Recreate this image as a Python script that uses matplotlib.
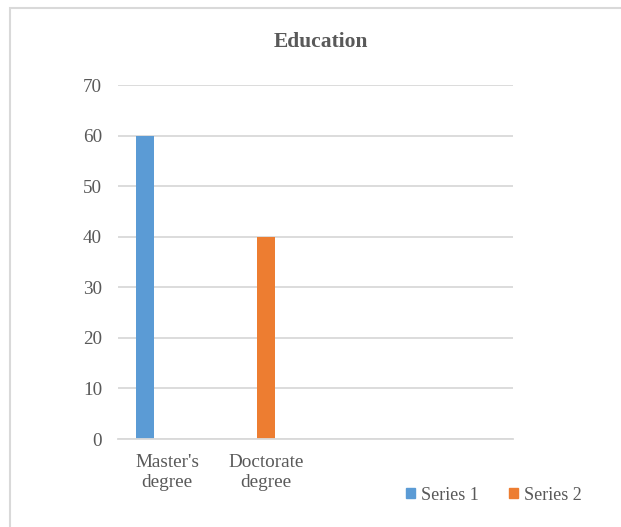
import matplotlib
matplotlib.use('Agg')
import matplotlib.pyplot as plt
from matplotlib.patches import Rectangle, Patch
import numpy as np

# chart data
categories = ["Master's\ndegree", "Doctorate\ndegree", "", ""]
series1 = [60, 0, 0, 0]
series2 = [0, 40, 0, 0]
series_names = ['Series 1', 'Series 2']
yticks = [0, 10, 20, 30, 40, 50, 60, 70]

blue = '#5B9BD5'
orange = '#ED7D31'
grey_text = '#595959'
grid_col = '#D9D9D9'

plt.rcParams['font.family'] = ['Liberation Serif', 'DejaVu Serif']

fig = plt.figure(figsize=(6.21, 5.27), dpi=100)
W, H = 621, 527
ax = fig.add_axes([118 / W, 1 - 439 / H, (512.5 - 118) / W, (439 - 85) / H])

# outer chart border (runs off right/bottom edge)
fig.patches.append(Rectangle((10 / W, -0.05), 1.2, 1 - 8 / H + 0.05,
                             transform=fig.transFigure, fill=False,
                             edgecolor=grid_col, linewidth=1.5))

x = np.arange(len(categories))
step = 0.223
width = 0.183
ax.bar(x - step, series1, width, color=blue, zorder=3)
ax.bar(x, series2, width, color=orange, zorder=3)

ax.set_xlim(-0.5, len(categories) - 0.5)
ax.set_ylim(0, 70)
ax.set_yticks(yticks)
ax.set_yticklabels([str(v) for v in yticks])
ax.set_xticks(x)
ax.set_xticklabels(categories, linespacing=1.2)
ax.tick_params(axis='both', length=0, labelsize=13.8, colors=grey_text)
ax.tick_params(axis='y', pad=11.5)
ax.tick_params(axis='x', pad=11)

ax.yaxis.grid(True, color=grid_col, linewidth=1.3, zorder=0)
for s in ['top', 'right', 'left']:
    ax.spines[s].set_visible(False)
ax.spines['bottom'].set_color(grid_col)
ax.spines['bottom'].set_linewidth(1.3)
ax.spines['bottom'].set_zorder(4)

fig.text(321 / W, 1 - 42 / H, 'Education', ha='center', va='center',
         fontsize=15.5, fontweight='bold', color=grey_text)

handles = [Patch(color=blue, label=series_names[0]),
           Patch(color=orange, label=series_names[1])]
fig.legend(handles=handles, loc='center', bbox_to_anchor=(494 / W, 1 - 495 / H),
           ncol=2, frameon=False, fontsize=13, labelcolor=grey_text,
           handlelength=0.5, handleheight=0.5, handletextpad=0.3,
           columnspacing=1.7, borderpad=0)

fig.savefig('out.png', dpi=100)
